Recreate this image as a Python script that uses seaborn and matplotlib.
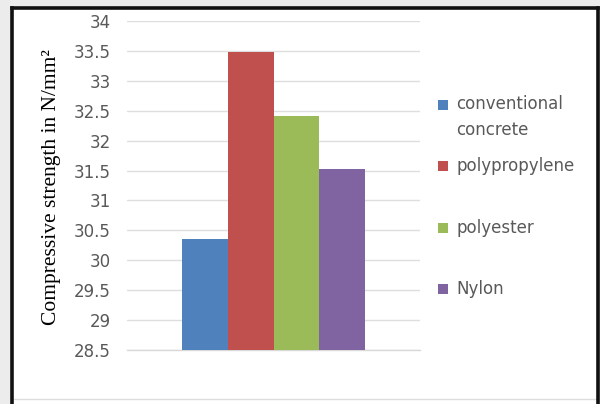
import matplotlib
matplotlib.use("Agg")
import matplotlib.pyplot as plt
import pandas as pd
import seaborn as sns
from matplotlib.lines import Line2D
from matplotlib.patches import Rectangle
from matplotlib.ticker import FuncFormatter, MultipleLocator

# data
materials = ["conventional\nconcrete", "polypropylene", "polyester", "Nylon"]
strength = [30.36, 33.49, 32.41, 31.53]
colors = ["#4F81BD", "#C0504D", "#9BBB59", "#8064A2"]
y_label = "Compressive strength in N/mm\u00b2"
y_min, y_max, y_step = 28.5, 34, 0.5

df = pd.DataFrame({"group": [""] * len(materials), "material": materials, "strength": strength})

W, H = 600, 404
sns.set_style("white")
fig = plt.figure(figsize=(W / 100, H / 100), dpi=100, facecolor="#ececec")

# white chart area inside the black frame
fig.patches.append(Rectangle((12 / W, 0), 586 / W, 1 - 8 / H, transform=fig.transFigure,
                             facecolor="white", edgecolor="none", zorder=-5))
for xs, ys in [([12, 12], [8, H]), ([12, 598], [8, 8]), ([598, 598], [8, H])]:
    fig.lines.append(Line2D([x / W for x in xs], [1 - y / H for y in ys], transform=fig.transFigure,
                            color="#111111", linewidth=2.6, solid_capstyle="projecting", zorder=5))
fig.lines.append(Line2D([14 / W, 596 / W], [1 - 399 / H] * 2, transform=fig.transFigure,
                        color="#dddddd", linewidth=1))

ax = fig.add_axes([127 / W, 1 - 350 / H, 293 / W, 329 / H])
ax.set_facecolor("none")
sns.barplot(data=df, x="group", y="strength", hue="material", palette=colors,
            width=0.625, saturation=1, legend=False, ax=ax, zorder=3, linewidth=0)
ax.set_xlim(-0.5, 0.5)
ax.set_ylim(y_min, y_max)
ax.yaxis.set_major_locator(MultipleLocator(y_step))
ax.yaxis.set_major_formatter(FuncFormatter(lambda v, _: f"{v:g}"))
ax.grid(axis="y", color="#dedede", linewidth=1, zorder=0)
ax.set_axisbelow(True)
for side in ["left", "right", "top"]:
    ax.spines[side].set_visible(False)
ax.spines["bottom"].set_color("#d9d9d9")
ax.spines["bottom"].set_linewidth(1)
ax.set_xlabel("")
ax.set_ylabel("")
ax.set_xticks([])
ax.tick_params(axis="y", length=0, pad=11.5, labelsize=12, labelcolor="#595959")

fig.text(52 / W, 1 - 187 / H, y_label, rotation=90, ha="center", va="center",
         family="Liberation Serif", fontsize=15.5, color="black")

# legend drawn on the right, square beside the first line of each label
for i, (name, col) in enumerate(zip(materials, colors)):
    yc = 105 + 61.3 * i
    fig.patches.append(Rectangle((438 / W, 1 - (yc + 5) / H), 10 / W, 10 / H,
                                 transform=fig.transFigure, facecolor=col, edgecolor="none"))
    extra = 25 * name.count("\n")
    fig.text(456 / W, 1 - (yc + 5 + extra) / H, name, ha="left", va="baseline", fontsize=12,
             color="#595959", linespacing=1.55)

fig.savefig("out.png", dpi=100, facecolor=fig.get_facecolor())
